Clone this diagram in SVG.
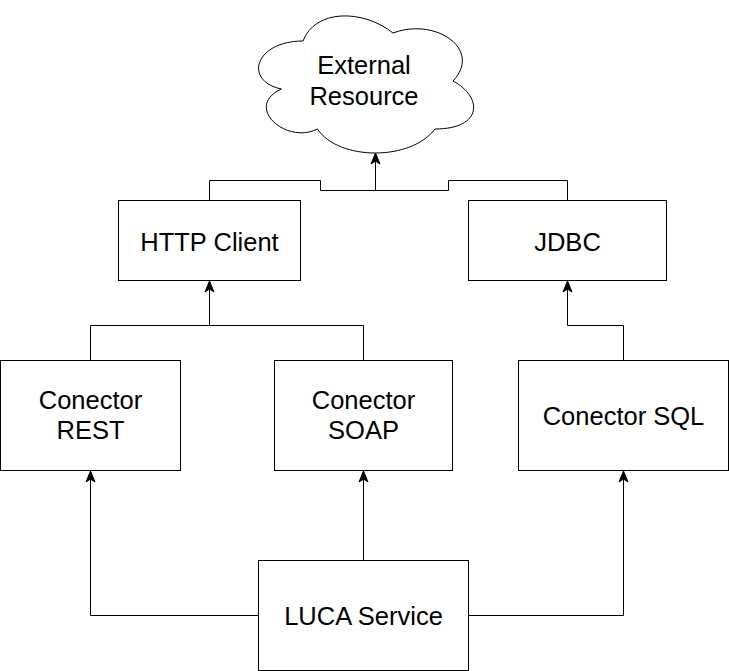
<svg xmlns="http://www.w3.org/2000/svg" width="729" height="671" viewBox="0 0 729 671">
  <style>
    .node { fill: #ffffff; stroke: #000000; stroke-width: 1; }
    .edge { fill: none; stroke: #000000; stroke-width: 1; }
    .label { font-family: "Liberation Sans", Arial, Helvetica, sans-serif; font-size: 25.5px; fill: #000000; text-anchor: middle; }
  </style>
  <defs>
    <marker id="arrow" markerUnits="userSpaceOnUse" markerWidth="14" markerHeight="12" viewBox="-12 -6 14 12" refX="0" refY="0" orient="auto">
      <path d="M0,0 L-11,-4.5 L-8,0 L-11,4.5 Z" fill="#000000" stroke="#000000" stroke-width="1"/>
    </marker>
  </defs>
  <rect x="0" y="0" width="729" height="671" fill="#ffffff"/>

  <g id="connectors">
    <path class="edge" d="M209.5 200.5 V180.5 H320.5 V190.5 H375.5 V153" marker-end="url(#arrow)"/>
    <path class="edge" d="M567.5 200.5 V180.5 H448.5 V190.5 H375.5"/>
    <path class="edge" d="M90.5 360.5 V325.5 H209.5 V281" marker-end="url(#arrow)"/>
    <path class="edge" d="M363.5 360.5 V325.5 H209.5"/>
    <path class="edge" d="M623.5 360.5 V325.5 H567.5 V281" marker-end="url(#arrow)"/>
    <path class="edge" d="M258.5 615.5 H90.5 V471" marker-end="url(#arrow)"/>
    <path class="edge" d="M363.5 560.5 V471" marker-end="url(#arrow)"/>
    <path class="edge" d="M468.5 615.5 H623.5 V471" marker-end="url(#arrow)"/>
  </g>

  <g id="external-resource">
    <path class="node" d="M303 41 C255 41 243 81 281.4 89 C243 106.6 286.2 145 317.4 129 C339 161 411 161 435 129 C483 129 483 97 453 81 C483 49 435 17 393 33 C363 9 315 9 303 41 Z"/>
    <text class="label" x="364" y="73.5">External</text>
    <text class="label" x="364" y="105">Resource</text>
  </g>

  <g id="http-client">
    <rect class="node" x="118.5" y="200.5" width="182" height="80"/>
    <text class="label" x="209.5" y="251">HTTP Client</text>
  </g>

  <g id="jdbc">
    <rect class="node" x="468.5" y="200.5" width="198" height="80"/>
    <text class="label" x="567.5" y="251">JDBC</text>
  </g>

  <g id="conector-rest">
    <rect class="node" x="0.5" y="360.5" width="180" height="110"/>
    <text class="label" x="90.5" y="408.5">Conector</text>
    <text class="label" x="90.5" y="439">REST</text>
  </g>

  <g id="conector-soap">
    <rect class="node" x="274.5" y="360.5" width="178" height="110"/>
    <text class="label" x="363.5" y="408.5">Conector</text>
    <text class="label" x="363.5" y="439">SOAP</text>
  </g>

  <g id="conector-sql">
    <rect class="node" x="518.5" y="360.5" width="210" height="110"/>
    <text class="label" x="623.5" y="425">Conector SQL</text>
  </g>

  <g id="luca-service">
    <rect class="node" x="258.5" y="560.5" width="210" height="110"/>
    <text class="label" x="363.5" y="625">LUCA Service</text>
  </g>
</svg>
